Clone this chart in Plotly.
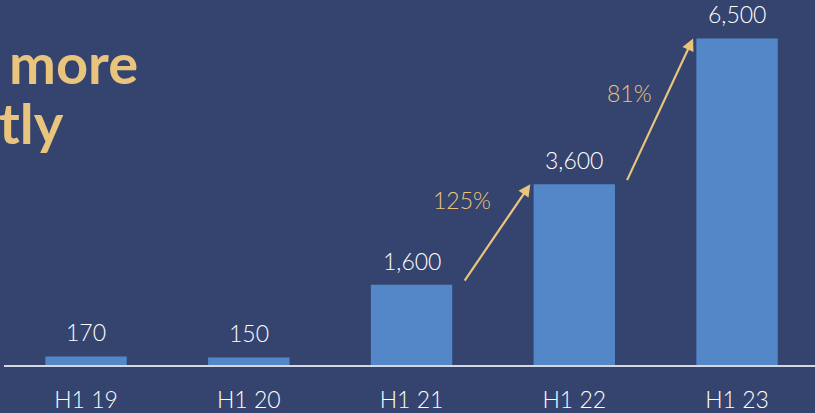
import plotly.graph_objects as go

# Half-year figures
periods = ["H1 19", "H1 20", "H1 21", "H1 22", "H1 23"]
values = [170, 150, 1600, 3600, 6500]
value_labels = ["170", "150", "1,600", "3,600", "6,500"]
# growth arrows drawn between consecutive periods (index of the starting bar)
growth_from = [2, 3]

BG = "#34446e"
BAR = "#5387c8"
GOLD = "#e9c47c"
TEXT = "#ffffff"
FONT = "Lato"
LIGHT = 300

fig = go.Figure()
fig.add_trace(go.Bar(
    x=list(range(len(periods))),
    y=values,
    width=0.5,
    marker=dict(color=BAR, line=dict(width=0)),
    hoverinfo="skip",
))

annotations = []
# value labels above each bar
for i, (v, lab) in enumerate(zip(values, value_labels)):
    annotations.append(dict(
        x=i, y=v, xref="x", yref="y", text=lab, showarrow=False,
        yanchor="bottom", yshift=8,
        font=dict(family=FONT, size=23, color=TEXT, weight=LIGHT),
    ))

# growth arrows with percentage labels
for i in growth_from:
    v0, v1 = values[i], values[i + 1]
    pct = round((v1 / v0 - 1) * 100)
    x0, y0 = i + 0.32, v0 + 50
    x1, y1 = i + 1 - 0.27, v1
    annotations.append(dict(
        x=x1, y=y1, ax=x0, ay=y0, xref="x", yref="y", axref="x", ayref="y",
        text="", showarrow=True, arrowhead=2, arrowsize=1.1, arrowwidth=2.2,
        arrowcolor=GOLD, standoff=0,
    ))
    annotations.append(dict(
        x=(x0 + x1) / 2, y=(y0 + y1) / 2, xref="x", yref="y",
        text=f"{pct}%", showarrow=False,
        xshift=-35 if i == growth_from[0] else -30,
        yshift=33 if i == growth_from[0] else 17,
        font=dict(family=FONT, size=23, color=GOLD, weight=LIGHT),
    ))

# headline text at the upper left
annotations.append(dict(
    x=7, y=63, xref="paper", yref="paper", text="<b>more</b>", showarrow=False,
    xanchor="left", yanchor="middle",
    font=dict(family=FONT, size=56, color=GOLD),
))
annotations.append(dict(
    x=-3, y=124, xref="paper", yref="paper", text="<b>tly</b>", showarrow=False,
    xanchor="left", yanchor="middle",
    font=dict(family=FONT, size=56, color=GOLD),
))

W, H = 815, 413
ml, mb, mt = 4, 43, 0
pw, ph = W - ml, H - mb - mt
# convert pixel positions of headline to paper coordinates
for a in annotations[-2:]:
    a["x"] = (a["x"] - ml) / pw
    a["y"] = (H - mb - a["y"]) / ph

fig.update_layout(
    width=W, height=H,
    margin=dict(l=ml, r=0, t=mt, b=mb, pad=0),
    paper_bgcolor=BG, plot_bgcolor=BG,
    showlegend=False,
    annotations=annotations,
    bargap=0.5,
)
fig.update_xaxes(
    range=[-0.504, 4.479],
    tickmode="array", tickvals=list(range(len(periods))), ticktext=periods,
    tickfont=dict(family=FONT, size=23, color=TEXT, weight=LIGHT),
    showgrid=False, zeroline=False, ticks="",
    showline=True, linecolor="#d5d8e0", linewidth=2,
    ticklabelstandoff=13,
)
fig.update_yaxes(
    range=[0, 7266], visible=False, showgrid=False, zeroline=False,
)

fig.write_html("out.html", config={"displayModeBar": False})
